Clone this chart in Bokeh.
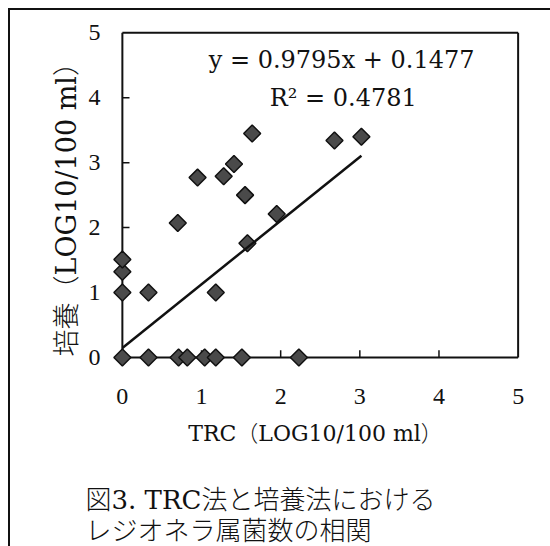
import math
from bokeh.plotting import figure
from bokeh.layouts import column
from bokeh.models import Range1d, Label, FixedTicker, Title
from bokeh.embed import file_html
from bokeh.resources import INLINE

# ---- data ----
trc = [0.0, 0.0, 0.0, 0.0, 0.33, 0.33, 0.71, 0.82, 1.04, 1.18, 1.51, 2.23,
       1.18, 0.70, 0.95, 1.28, 1.41, 1.55, 1.58, 1.95, 1.64, 2.68, 3.02]
culture = [0.0, 1.0, 1.32, 1.51, 0.0, 1.0, 0.0, 0.0, 0.0, 0.0, 0.0, 0.0,
           1.0, 2.07, 2.77, 2.79, 2.98, 2.50, 1.76, 2.21, 3.45, 3.34, 3.40]
slope = 0.9795
intercept = 0.1477
r_squared = 0.4781
x_ticks = [0, 1, 2, 3, 4, 5]
y_ticks = [0, 1, 2, 3, 4, 5]
x_title = "TRC（LOG10/100 ml）"
y_title = "培養（LOG10/100 ml）"
eq_text = "y = 0.9795x + 0.1477"
r2_text = "R² = 0.4781"
caption_lines = ["図3. TRC法と培養法における", "レジオネラ属菌数の相関"]

TIMES = "'Liberation Serif', 'Noto Sans CJK JP'"
SERIF = "'DejaVu Serif', 'Noto Sans CJK JP Light', 'Noto Sans CJK JP'"
INK = "#111111"

x_lo, x_hi = x_ticks[0], x_ticks[-1]
y_lo, y_hi = y_ticks[0], y_ticks[-1]

# ---------------- main chart ----------------
p = figure(width=540, height=460, output_backend="svg", toolbar_location=None,
           x_range=Range1d(-0.15, 5.03), y_range=Range1d(-0.2, 5.05),
           min_border_left=100, min_border_right=30,
           min_border_top=19, min_border_bottom=100)
p.grid.visible = False
p.outline_line_color = None
p.background_fill_color = "white"
p.border_fill_color = "white"

for ax in (p.xaxis[0], p.yaxis[0]):
    ax.axis_line_color = None
    ax.major_tick_line_color = None
    ax.minor_tick_line_color = None
    ax.major_tick_in = 0
    ax.major_tick_out = 0
    ax.major_label_text_font = TIMES
    ax.major_label_text_font_size = "24px"
    ax.major_label_text_color = INK
    ax.axis_label_text_font_style = "normal"
    ax.axis_label_text_color = INK

p.xaxis.ticker = FixedTicker(ticks=x_ticks)
p.yaxis.ticker = FixedTicker(ticks=y_ticks)
p.xaxis.major_label_standoff = 18
p.yaxis.major_label_standoff = 10
p.xaxis.axis_label = x_title
p.xaxis.axis_label_text_font = SERIF
p.xaxis.axis_label_text_font_size = "22px"
p.xaxis.axis_label_standoff = 14

# y-axis title (side title)
ty = Title(text=y_title, align="left", offset=14, standoff=8,
           text_font=SERIF, text_font_size="27px", text_font_style="normal", text_color=INK)
p.add_layout(ty, "left")

# plot-area box (drawn at the data limits so edge markers are not cut)
p.segment(x0=[x_lo, x_lo, x_lo, x_hi], y0=[y_lo, y_lo, y_hi, y_lo],
          x1=[x_hi, x_lo, x_hi, x_hi], y1=[y_lo, y_hi, y_hi, y_hi],
          line_color=INK, line_width=2)

# inward tick marks
inner_y = y_ticks[1:-1]
inner_x = x_ticks[1:-1]
p.segment(x0=[x_lo] * len(inner_y), y0=inner_y, x1=[x_lo + 0.09] * len(inner_y), y1=inner_y,
          line_color=INK, line_width=1.5)
p.segment(x0=inner_x, y0=[y_lo] * len(inner_x), x1=inner_x, y1=[y_lo + 0.11] * len(inner_x),
          line_color=INK, line_width=1.5)

# data points
p.scatter(trc, culture, marker="square", size=12, angle=math.pi / 4,
          fill_color="#4a4a4a", line_color=INK, line_width=1.5)

# linear trend line over the data range
fit_x = [min(trc), max(trc)]
fit_y = [slope * v + intercept for v in fit_x]
p.line(fit_x, fit_y, line_color=INK, line_width=2.5)

# equation text
p.add_layout(Label(x=2.77, y=4.58, text=eq_text, text_align="center", text_baseline="middle",
                   text_font=SERIF, text_font_size="24px", text_color=INK))
p.add_layout(Label(x=2.79, y=4.0, text=r2_text, text_align="center", text_baseline="middle",
                   text_font=SERIF, text_font_size="24px", text_color=INK))

# ---------------- caption strip ----------------
cap = figure(width=540, height=76, output_backend="svg", toolbar_location=None,
             x_range=Range1d(0, 1), y_range=Range1d(0, 1),
             x_axis_location=None, y_axis_location=None,
             min_border=0, min_border_left=0, min_border_right=0,
             min_border_top=0, min_border_bottom=0)
cap.grid.visible = False
cap.outline_line_color = None
cap.background_fill_color = "white"
cap.border_fill_color = "white"
cap_title = Title(text="\n".join(caption_lines), align="left", offset=-25, standoff=0,
                  text_font=SERIF, text_font_size="26px", text_font_style="normal",
                  text_line_height=1.06, text_color=INK)
cap.add_layout(cap_title, "below")

layout = column(p, cap, spacing=0)
layout.styles = {"margin-left": "8px", "margin-top": "8px",
                 "border-top": "2px solid #111", "border-left": "2px solid #111"}

open("out.html", "w").write(file_html(layout, INLINE))
